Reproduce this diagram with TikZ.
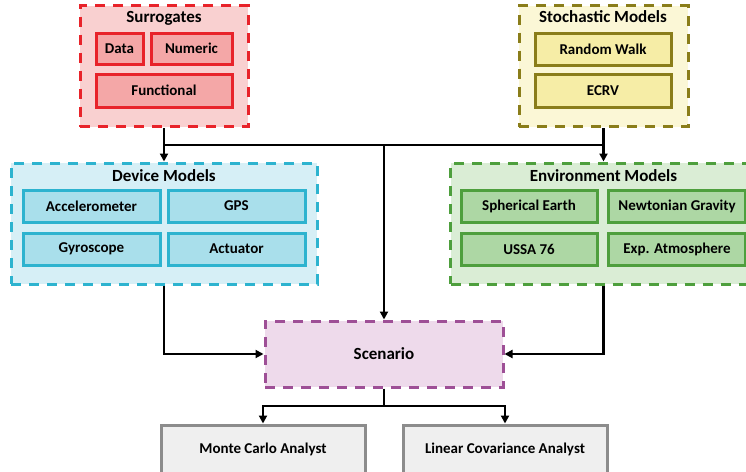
\documentclass[tikz,border=0pt]{standalone}
\usepackage{fontspec}
\setmainfont{Carlito}
\usetikzlibrary{arrows.meta}

\definecolor{surline}{HTML}{E8232A}
\definecolor{surfill}{HTML}{F9D0D0}
\definecolor{surinner}{HTML}{F4A7A7}
\definecolor{stoline}{HTML}{8A7D1A}
\definecolor{stofill}{HTML}{FBF7D6}
\definecolor{stoinner}{HTML}{F6EDA6}
\definecolor{devline}{HTML}{2DB3CF}
\definecolor{devfill}{HTML}{D6EFF6}
\definecolor{devinner}{HTML}{A9DFEB}
\definecolor{envline}{HTML}{4E9F3D}
\definecolor{envfill}{HTML}{DAEDD5}
\definecolor{envinner}{HTML}{ADD7A4}
\definecolor{scnline}{HTML}{9E4F96}
\definecolor{scnfill}{HTML}{EEDAEB}
\definecolor{anaLine}{HTML}{8C8C8C}
\definecolor{anaFill}{HTML}{EFEFEF}

\begin{document}
\begin{tikzpicture}
  [x=1pt,y=-1pt,
   every node/.style={font=\bfseries\fontsize{15}{17}\selectfont,inner sep=0pt},
   group/.style 2 args={draw=#1,fill=#2,line width=3pt,dash pattern=on 10pt off 8pt,rectangle},
   item/.style 2 args={draw=#1,fill=#2,line width=3pt,rectangle,minimum height=32pt},
   title/.style={font=\bfseries\fontsize{17}{19}\selectfont},
   link/.style={line width=2.5pt},
   arrow/.style={link,-{Triangle[length=8pt,width=8pt]}}]
  \useasboundingbox (0,0) rectangle (746,471);
  \clip (0,0) rectangle (746,471);

  % surrogates
  \node[group={surline}{surfill},minimum width=168pt,minimum height=121pt] (sur) at (164,66) {};
  \node[title] (surT) at (164,18) {Surrogates};
  \node[item={surline}{surinner},minimum width=47pt,minimum height=31pt] (data) at (119.5,48.5) {Data};
  \node[item={surline}{surinner},minimum width=81pt,minimum height=31pt] (num) at (191.5,48.5) {Numeric};
  \node[item={surline}{surinner},minimum width=136pt,minimum height=33pt] (fun) at (164,90.5) {Functional};

  % stochastic models
  \node[group={stoline}{stofill},minimum width=169pt,minimum height=121pt] (sto) at (603.5,66) {};
  \node[title] (stoT) at (603,17) {Stochastic Models};
  \node[item={stoline}{stoinner},minimum width=136pt] (rw) at (603,49) {Random Walk};
  \node[item={stoline}{stoinner},minimum width=136pt,minimum height=33pt] (ecrv) at (603,90.5) {ECRV};

  % device models
  \node[group={devline}{devfill},minimum width=306pt,minimum height=121pt] (dev) at (164,223.5) {};
  \node[title] (devT) at (164,176) {Device Models};
  \node[item={devline}{devinner},minimum width=137pt] (acc) at (91.5,206) {Accelerometer};
  \node[item={devline}{devinner},minimum width=137pt] (gps) at (236.5,206) {GPS};
  \node[item={devline}{devinner},minimum width=137pt] (gyro) at (91.5,249) {Gyroscope};
  \node[item={devline}{devinner},minimum width=137pt] (act) at (236.5,249) {Actuator};

  % environment models
  \node[group={envline}{envfill},minimum width=306pt,minimum height=121pt] (env) at (603.5,223.5) {};
  \node[title] (envT) at (603.5,176) {Environment Models};
  \node[item={envline}{envinner},minimum width=136pt] (sph) at (529,206) {Spherical Earth};
  \node[item={envline}{envinner},minimum width=137pt] (grav) at (677,206) {Newtonian Gravity};
  \node[item={envline}{envinner},minimum width=136pt] (ussa) at (529,249) {USSA 76};
  \node[item={envline}{envinner},minimum width=137pt] (atm) at (677,249) {Exp. Atmosphere};

  % scenario and analysts
  \node[group={scnline}{scnfill},minimum width=238pt,minimum height=66pt,title] (scn) at (384,354) {Scenario};
  \node[item={anaLine}{anaFill},minimum width=204pt,minimum height=48pt] (mca) at (263,449) {Monte Carlo Analyst};
  \node[item={anaLine}{anaFill},minimum width=204pt,minimum height=48pt] (lca) at (505,449) {Linear Covariance Analyst};

  \coordinate (hub) at (384,145);
  \coordinate (split) at (384,406);

  \draw[arrow] (sur) -- (dev);
  \draw[arrow] (sto) -- (env);
  \draw[link] (sur.south |- hub) -- (sto.south |- hub);
  \draw[arrow] (hub) -- (scn);
  \draw[arrow] (dev.south) |- (scn.west);
  \draw[arrow] (env.south) |- (scn.east);
  \draw[link] (scn) -- (split);
  \draw[arrow] (split) -| (mca.north);
  \draw[arrow] (split) -| (lca.north);
\end{tikzpicture}
\end{document}
